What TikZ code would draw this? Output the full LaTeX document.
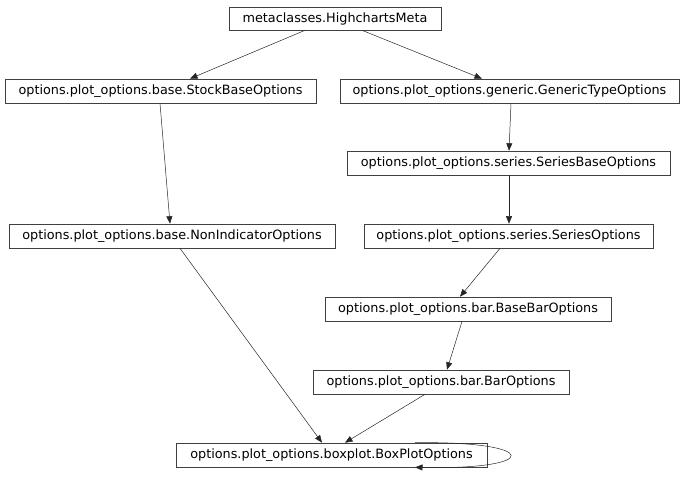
\documentclass[tikz,border=0pt]{standalone}
\usepackage{fontspec}
\setmainfont{DejaVu Sans}
\usetikzlibrary{arrows.meta}
\begin{document}
\begin{tikzpicture}[x=1pt,y=-1pt,
  cls/.style={draw=black!75,line width=0.6pt,rectangle,inner sep=0pt,font=\fontsize{12.8}{14}\selectfont,text=black,anchor=center},
  edge/.style={draw=black!85,line width=0.5pt,-{Triangle[length=7.5pt,width=6pt]}}]
\useasboundingbox (0,0) rectangle (685,477);
\node[cls,minimum width=212pt,minimum height=23pt] (meta) at (335,18.5) {metaclasses.HighchartsMeta};
\node[cls,minimum width=311pt,minimum height=24pt] (stock) at (160.5,91) {options.plot\_options.base.StockBaseOptions};
\node[cls,minimum width=339pt,minimum height=24pt] (generic) at (509.5,91) {options.plot\_options.generic.GenericTypeOptions};
\node[cls,minimum width=323pt,minimum height=24pt] (sbase) at (508.5,163) {options.plot\_options.series.SeriesBaseOptions};
\node[cls,minimum width=326pt,minimum height=24pt] (nonind) at (172,236) {options.plot\_options.base.NonIndicatorOptions};
\node[cls,minimum width=289pt,minimum height=24pt] (series) at (508.5,236) {options.plot\_options.series.SeriesOptions};
\node[cls,minimum width=286pt,minimum height=24pt] (basebar) at (468,309) {options.plot\_options.bar.BaseBarOptions};
\node[cls,minimum width=256pt,minimum height=24pt] (bar) at (441,382) {options.plot\_options.bar.BarOptions};
\node[cls,minimum width=311pt,minimum height=24pt] (box) at (331.5,455) {options.plot\_options.boxplot.BoxPlotOptions};
\draw[edge] (meta.south -| 305,0) -- (stock.north -| 190,0);
\draw[edge] (meta.south -| 362,0) -- (generic.north -| 482,0);
\draw[edge] (stock.south -| 160,0) -- (nonind.north -| 170,0);
\draw[edge] (generic.south -| 511,0) -- (sbase.north -| 509,0);
\draw[edge] (sbase.south -| 509,0) -- (series.north -| 509,0);
\draw[edge] (series.south -| 500,0) -- (basebar.north -| 460,0);
\draw[edge] (basebar.south -| 462,0) -- (bar.north -| 447,0);
\draw[edge] (nonind.south -| 180,0) -- (box.north -| 322,0);
\draw[edge] (bar.south -| 425,0) -- (box.north -| 345,0);
\draw[edge] (box.north -| 415,0) .. controls (542,441) and (542,470) .. (box.south -| 415,0);
\end{tikzpicture}
\end{document}
